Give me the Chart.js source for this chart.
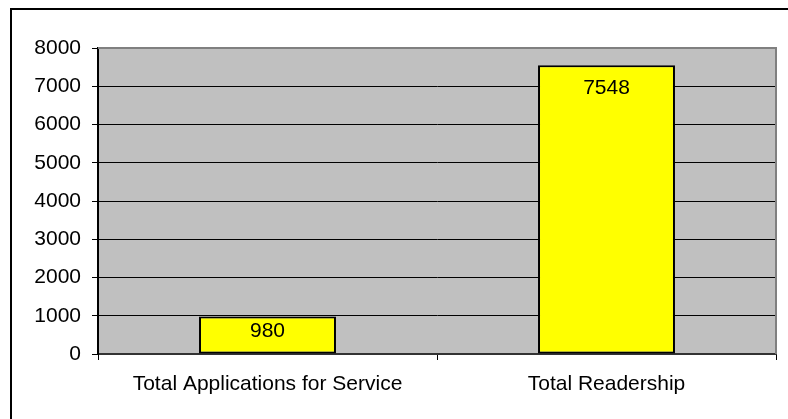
<!DOCTYPE html>
<html>
<head>
<meta charset="utf-8">
<script src="https://cdn.jsdelivr.net/npm/chart.js@4"></script>
<style>
    body { margin: 0; background: #fff; }
    #wrap { width: 788px; height: 419px; }
</style>
</head>
<body>
<div id="wrap"><canvas id="chart" width="788" height="419"></canvas></div>
<script>
const categories = ['Total Applications for Service', 'Total Readership'];
const totals = [980, 7548];
const yTicks = [0, 1000, 2000, 3000, 4000, 5000, 6000, 7000, 8000];

const FONT = { family: 'Liberation Sans, Arial, sans-serif', size: 21 };

// gray plot area, gray top/right edge and the cropped outer frame
const frame = {
    id: 'frame',
    beforeDraw(chart) {
        const { ctx, chartArea: a } = chart;
        ctx.save();
        ctx.fillStyle = '#c0c0c0';
        ctx.fillRect(a.left, a.top, a.right - a.left, a.bottom - a.top);
        ctx.restore();
    },
    afterDraw(chart) {
        const { ctx, chartArea: a } = chart;
        ctx.save();
        ctx.strokeStyle = '#808080';
        ctx.lineWidth = 2;
        ctx.beginPath();
        ctx.moveTo(a.left, a.top);
        ctx.lineTo(a.right, a.top);
        ctx.lineTo(a.right, a.bottom);
        ctx.stroke();
        ctx.strokeStyle = '#000';
        ctx.lineWidth = 2;
        ctx.beginPath();
        ctx.moveTo(11, 419);
        ctx.lineTo(11, 9);
        ctx.lineTo(788, 9);
        ctx.stroke();
        ctx.restore();
    }
};

// value labels inside the top of each bar (short bars keep it centred lower)
const valueLabels = {
    id: 'valueLabels',
    afterDatasetsDraw(chart) {
        const { ctx } = chart;
        const meta = chart.getDatasetMeta(0);
        ctx.save();
        ctx.font = `${FONT.size}px ${FONT.family}`;
        ctx.fillStyle = '#000';
        ctx.textAlign = 'center';
        ctx.textBaseline = 'middle';
        meta.data.forEach((bar, i) => {
            const y = Math.min(bar.y + 23, (bar.y + bar.base) / 2 - 4);
            ctx.fillText(String(totals[i]), bar.x, y);
        });
        ctx.restore();
    }
};

new Chart(document.getElementById('chart'), {
    type: 'bar',
    data: {
        labels: categories,
        datasets: [{
            data: totals,
            backgroundColor: '#ffff00',
            borderColor: '#000',
            borderWidth: 2,
            borderSkipped: false,
            categoryPercentage: 0.404,
            barPercentage: 1
        }]
    },
    options: {
        responsive: false,
        animation: false,
        layout: { padding: { top: 48, right: 12, left: 0, bottom: 0 } },
        plugins: { legend: { display: false }, tooltip: { enabled: false } },
        scales: {
            x: {
                grid: { drawOnChartArea: false, drawTicks: true, tickLength: 6, color: '#000', offset: true },
                border: { color: '#333', width: 2 },
                ticks: { color: '#000', font: FONT, padding: 12, maxRotation: 0 },
                afterFit(scale) { scale.height = 65; }
            },
            y: {
                min: 0,
                max: 8000,
                afterBuildTicks(scale) { scale.ticks = yTicks.map(v => ({ value: v })); },
                grid: { color: '#000', lineWidth: 1, tickLength: 6 },
                border: { color: '#000', width: 2 },
                ticks: { color: '#000', font: FONT, padding: 11, callback: v => String(v) },
                afterFit(scale) { scale.width = 98; }
            }
        }
    },
    plugins: [frame, valueLabels]
});
</script>
</body>
</html>
